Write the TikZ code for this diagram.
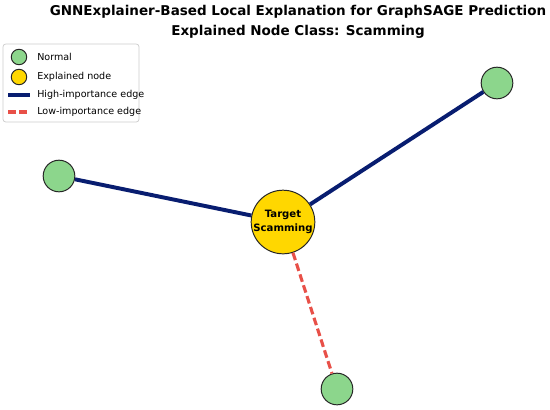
\documentclass[tikz,border=0pt]{standalone}
\usepackage{fontspec}
\setmainfont{DejaVu Sans}
\usetikzlibrary{calc}
\definecolor{normalgreen}{RGB}{140,214,140}
\definecolor{explgold}{RGB}{255,215,0}
\definecolor{highblue}{RGB}{8,29,112}
\definecolor{lowred}{RGB}{232,80,72}
\tikzset{
  normalnode/.style={circle,draw=black!85,line width=0.7pt,fill=normalgreen,minimum size=22.5pt,inner sep=0pt},
  explnode/.style={circle,draw=black!85,line width=0.7pt,fill=explgold,minimum size=41pt,inner sep=0pt,align=center,font=\fontsize{7.2}{10}\selectfont\bfseries},
  highedge/.style={highblue,line width=2.8pt},
  lowedge/.style={lowred,line width=2.2pt,dash pattern=on 5.5pt off 2.6pt},
  legtext/.style={anchor=west,inner sep=0pt,font=\fontsize{6.8}{8}\selectfont}
}
\begin{document}
\begin{tikzpicture}[x=0.025cm,y=-0.025cm]
		%%%%% START %%%%%
		\useasboundingbox[fill=white] (0,0) rectangle (550,409);
		
		\node[font=\fontsize{9.6}{14.2}\selectfont\bfseries,align=center] (title) at (298,21.5)
		  {GNNExplainer-Based Local Explanation for GraphSAGE Prediction\\Explained Node Class: Scamming};
		
		\node[explnode] (t) at (283,222) {Target\\Scamming};
		\node[normalnode] (n1) at (497,83) {};
		\node[normalnode] (n2) at (59,176) {};
		\node[normalnode] (n3) at (337,389) {};
		
		\draw[highedge] (t) -- (n1);
		\draw[highedge] (t) -- (n2);
		\draw[lowedge] (t) -- (n3);
		
		% legend
		\draw[rounded corners=2pt,draw=black!20,fill=white,line width=0.5pt] (3,44) rectangle (139,122);
		\node[normalnode,minimum size=11pt] (lg1) at (19,57) {};
		\node[legtext] (lt1) at (37,57) {Normal};
		\node[normalnode,fill=explgold,minimum size=11pt] (lg2) at (19,77) {};
		\node[legtext] (lt2) at (37,77) {Explained node};
		\coordinate (lh1) at (8,95);
		\coordinate (lh2) at (30,95);
		\draw[highedge] (lh1) -- (lh2);
		\node[legtext] (lt3) at (37,95) {High-importance edge};
		\coordinate (ll1) at (8,112);
		\coordinate (ll2) at (30,112);
		\draw[lowedge] (ll1) -- (ll2);
		\node[legtext] (lt4) at (37,112) {Low-importance edge};
		%%%%% END %%%%%
	\end{tikzpicture}
\end{document}
